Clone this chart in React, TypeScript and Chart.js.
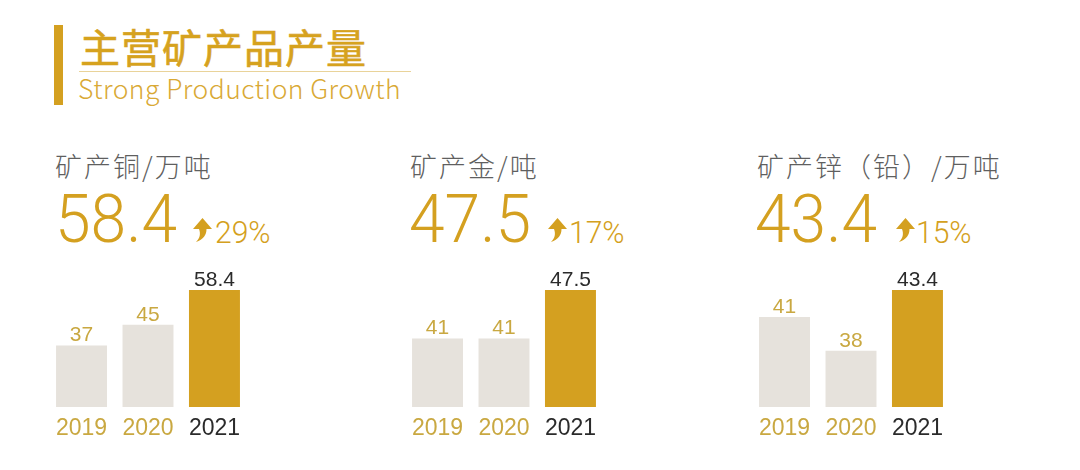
import React, { useEffect, useRef } from "react";
import { Chart, registerables } from "chart.js";

Chart.register(...registerables);

// ---- data ----
const years = ["2019", "2020", "2021"];
const panelTitles = ["矿产铜/万吨", "矿产金/吨", "矿产锌（铅）/万吨"];
const headlineValues = ["58.4", "47.5", "43.4"];
const growthLabels = ["29%", "17%", "15%"];
const copperValues = [37, 45, 58.4];
const goldValues = [41, 41, 47.5];
const zincValues = [41, 38, 43.4];
const copperLabels = ["37", "45", "58.4"];
const goldLabels = ["41", "41", "47.5"];
const zincLabels = ["41", "38", "43.4"];
const axisMins = [13.2, 31.8, 33];
const axisMaxs = [58.4, 47.5, 43.4];

const seriesValues = [copperValues, goldValues, zincValues];
const seriesLabels = [copperLabels, goldLabels, zincLabels];

const GOLD = "#D4A020";
const BEIGE = "#E6E2DC";
const LABEL_GOLD = "#C9A841";
const DARK = "#2b2b2b";

const canvasLefts = [48, 404, 751];
const textLefts = [55, 410, 757];
const numLefts = [54.5, 408.5, 754.5];
const arrowLefts = [193, 548, 896];
const pctLefts = [215, 569, 916];

const valueLabelPlugin = {
  id: "valueLabels",
  afterDatasetsDraw(chart: any) {
    const labels: string[] = chart.options.plugins.valueLabels.labels;
    const meta = chart.getDatasetMeta(0);
    const ctx = chart.ctx;
    ctx.save();
    ctx.font = '21px "Liberation Sans", Arial, sans-serif';
    ctx.textAlign = "center";
    ctx.textBaseline = "alphabetic";
    meta.data.forEach((bar: any, i: number) => {
      ctx.fillStyle = i === 2 ? DARK : LABEL_GOLD;
      ctx.fillText(labels[i], bar.x, bar.y - 4);
    });
    ctx.restore();
  },
};

function BarPanel({ idx }: { idx: number }) {
  const ref = useRef<HTMLCanvasElement>(null);
  useEffect(() => {
    if (!ref.current) return;
    const chart = new Chart(ref.current, {
      type: "bar",
      data: {
        labels: years,
        datasets: [
          {
            data: seriesValues[idx],
            backgroundColor: [BEIGE, BEIGE, GOLD],
            borderWidth: 0,
            categoryPercentage: 1,
            barPercentage: 0.767,
          },
        ],
      },
      options: {
        animation: false,
        responsive: false,
        maintainAspectRatio: false,
        devicePixelRatio: 1,
        layout: { padding: { top: 34, left: 0, right: 0, bottom: 0 } },
        plugins: {
          legend: { display: false },
          tooltip: { enabled: false },
          valueLabels: { labels: seriesLabels[idx] },
        } as any,
        scales: {
          x: {
            grid: { display: false, drawTicks: false },
            border: { display: false },
            ticks: {
              padding: 8,
              color: (c: any) => (c.index === 2 ? DARK : LABEL_GOLD),
              font: { family: '"Liberation Sans", Arial, sans-serif', size: 23 },
            },
            afterFit: (s: any) => {
              s.height = 43;
            },
          },
          y: {
            display: false,
            min: axisMins[idx],
            max: axisMaxs[idx],
          },
        },
      },
      plugins: [valueLabelPlugin],
    });
    return () => chart.destroy();
  }, [idx]);
  return (
    <canvas
      ref={ref}
      width={200}
      height={194}
      style={{ position: "absolute", left: canvasLefts[idx], top: 256, width: 200, height: 194 }}
    />
  );
}

function Arrow({ left }: { left: number }) {
  return (
    <svg
      width={19}
      height={24}
      viewBox="0 0 19 24"
      style={{ position: "absolute", left, top: 218 }}
    >
      <path d="M9.5 0 L19 11 L13.5 11 C13.5 17 10.5 21.5 3 24 C7 20 7.8 16 6 11 L0 11 Z" fill={GOLD} />
    </svg>
  );
}

const cjk = '"Noto Sans CJK SC", "Noto Sans", sans-serif';
const num = 'Roboto, "Noto Sans", sans-serif';

export default function App() {
  return (
    <div
      style={{
        position: "absolute",
        left: 0,
        top: 0,
        width: 1080,
        height: 470,
        background: "#ffffff",
        overflow: "hidden",
      }}
    >
      <div style={{ position: "absolute", left: 54, top: 25, width: 8.5, height: 80, background: GOLD }} />
      <div
        style={{
          position: "absolute",
          left: 80,
          top: 26,
          fontFamily: cjk,
          fontWeight: 400,
          fontSize: 40,
          lineHeight: 1,
          letterSpacing: 1,
          color: "#D6A21E",
          whiteSpace: "nowrap",
          WebkitTextStroke: "0.6px #D6A21E",
        }}
      >
        主营矿产品产量
      </div>
      <div style={{ position: "absolute", left: 79, top: 71, width: 332, height: 1, background: "#E9D39A" }} />
      <div
        style={{
          position: "absolute",
          left: 78,
          top: 75,
          fontFamily: cjk,
          fontWeight: 300,
          fontSize: 26.5,
          lineHeight: 1,
          letterSpacing: 0.45,
          color: "#D9A935",
          whiteSpace: "nowrap",
        }}
      >
        Strong Production Growth
      </div>
      {[0, 1, 2].map((i) => (
        <React.Fragment key={i}>
          <div
            style={{
              position: "absolute",
              left: textLefts[i],
              top: 151.5,
              fontFamily: cjk,
              fontWeight: 300,
              fontSize: 27,
              lineHeight: 1,
              letterSpacing: 2,
              color: "#5f5f5f",
              whiteSpace: "nowrap",
            }}
          >
            {panelTitles[i]}
          </div>
          <div
            style={{
              position: "absolute",
              left: numLefts[i],
              top: 185,
              fontFamily: num,
              fontWeight: 300,
              fontSize: 67.5,
              lineHeight: 1,
              color: GOLD,
              whiteSpace: "nowrap",
              transform: "scaleX(0.95)",
              transformOrigin: "left top",
            }}
          >
            {headlineValues[i]}
          </div>
          <Arrow left={arrowLefts[i]} />
          <div
            style={{
              position: "absolute",
              left: pctLefts[i],
              top: 215.8,
              fontFamily: num,
              fontWeight: 300,
              fontSize: 32,
              lineHeight: 1,
              color: GOLD,
              whiteSpace: "nowrap",
              transform: "scaleX(0.94)",
              transformOrigin: "left top",
            }}
          >
            {growthLabels[i]}
          </div>
          <BarPanel idx={i} />
        </React.Fragment>
      ))}
    </div>
  );
}
